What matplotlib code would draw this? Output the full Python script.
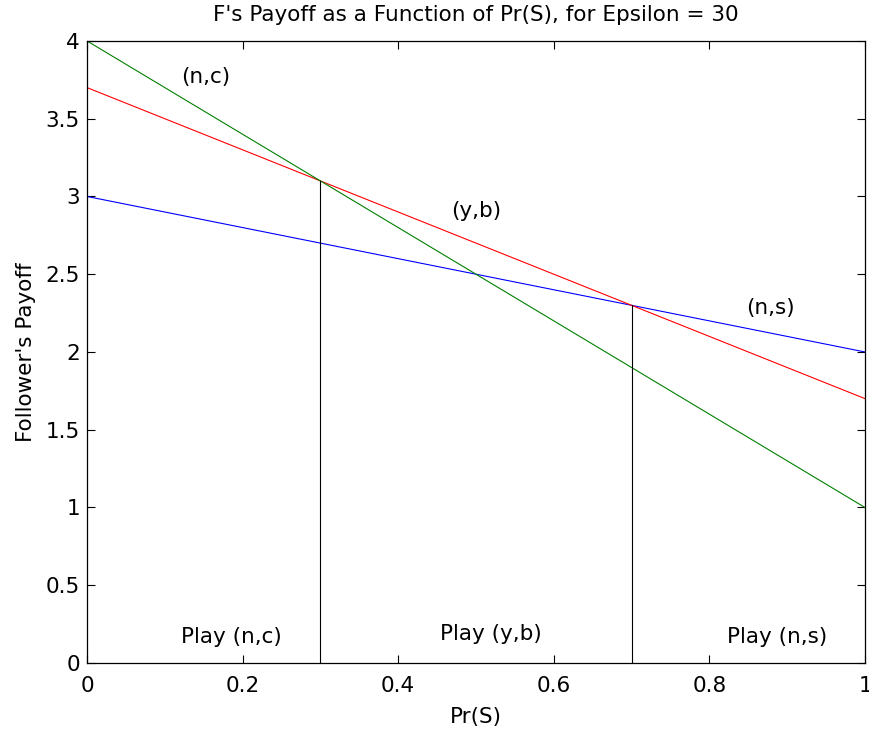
import matplotlib
matplotlib.use("Agg")
import matplotlib.pyplot as plt
import numpy as np

plt.rcParams['font.family'] = ['DejaVu Sans']

x = [0.0, 1.0]
nc_vals = [4.0, 1.0]
yb_vals = [3.7, 1.7]
ns_vals = [3.0, 2.0]
cut_x = [0.3, 0.7]
cut_top = [3.1, 2.3]

line_labels = [("(n,c)", 0.152, 3.77), ("(y,b)", 0.50, 2.907), ("(n,s)", 0.879, 2.283)]
region_labels = [("Play (n,c)", 0.186, 0.167), ("Play (y,b)", 0.519, 0.186), ("Play (n,s)", 0.887, 0.167)]

fig = plt.figure(figsize=(8.69, 7.31), dpi=100)
ax = fig.add_axes([0.1001, 0.093, 0.8953, 0.851])

ax.plot(x, ns_vals, color='#0000ff', lw=0.8)
ax.plot(x, yb_vals, color='#ff0000', lw=0.8)
ax.plot(x, nc_vals, color='#008000', lw=0.8)
for cx, ct in zip(cut_x, cut_top):
    ax.plot([cx, cx], [0, ct], color='black', lw=0.8)

fs = 15.5
for t, tx, ty in line_labels + region_labels:
    ax.text(tx, ty, t, ha='center', va='center', fontsize=fs)

ax.set_xlim(0, 1)
ax.set_ylim(0, 4)
ax.set_xticks([0, 0.2, 0.4, 0.6, 0.8, 1])
ax.set_xticklabels(['0', '0.2', '0.4', '0.6', '0.8', '1'])
ax.set_yticks([0, 0.5, 1, 1.5, 2, 2.5, 3, 3.5, 4])
ax.set_yticklabels(['0', '0.5', '1', '1.5', '2', '2.5', '3', '3.5', '4'])
ax.tick_params(direction='in', top=True, right=True, labelsize=fs, length=6, width=0.8)
ax.tick_params(axis='x', pad=9)
ax.tick_params(axis='y', pad=5)
for s in ax.spines.values():
    s.set_linewidth(0.9)
ax.set_xlabel("Pr(S)", fontsize=fs, labelpad=8)
ax.set_ylabel("Follower's Payoff", fontsize=fs, labelpad=7)
ax.set_title("F's Payoff as a Function of Pr(S), for Epsilon = 30", fontsize=fs, pad=14)

fig.savefig("out.png", dpi=100)
